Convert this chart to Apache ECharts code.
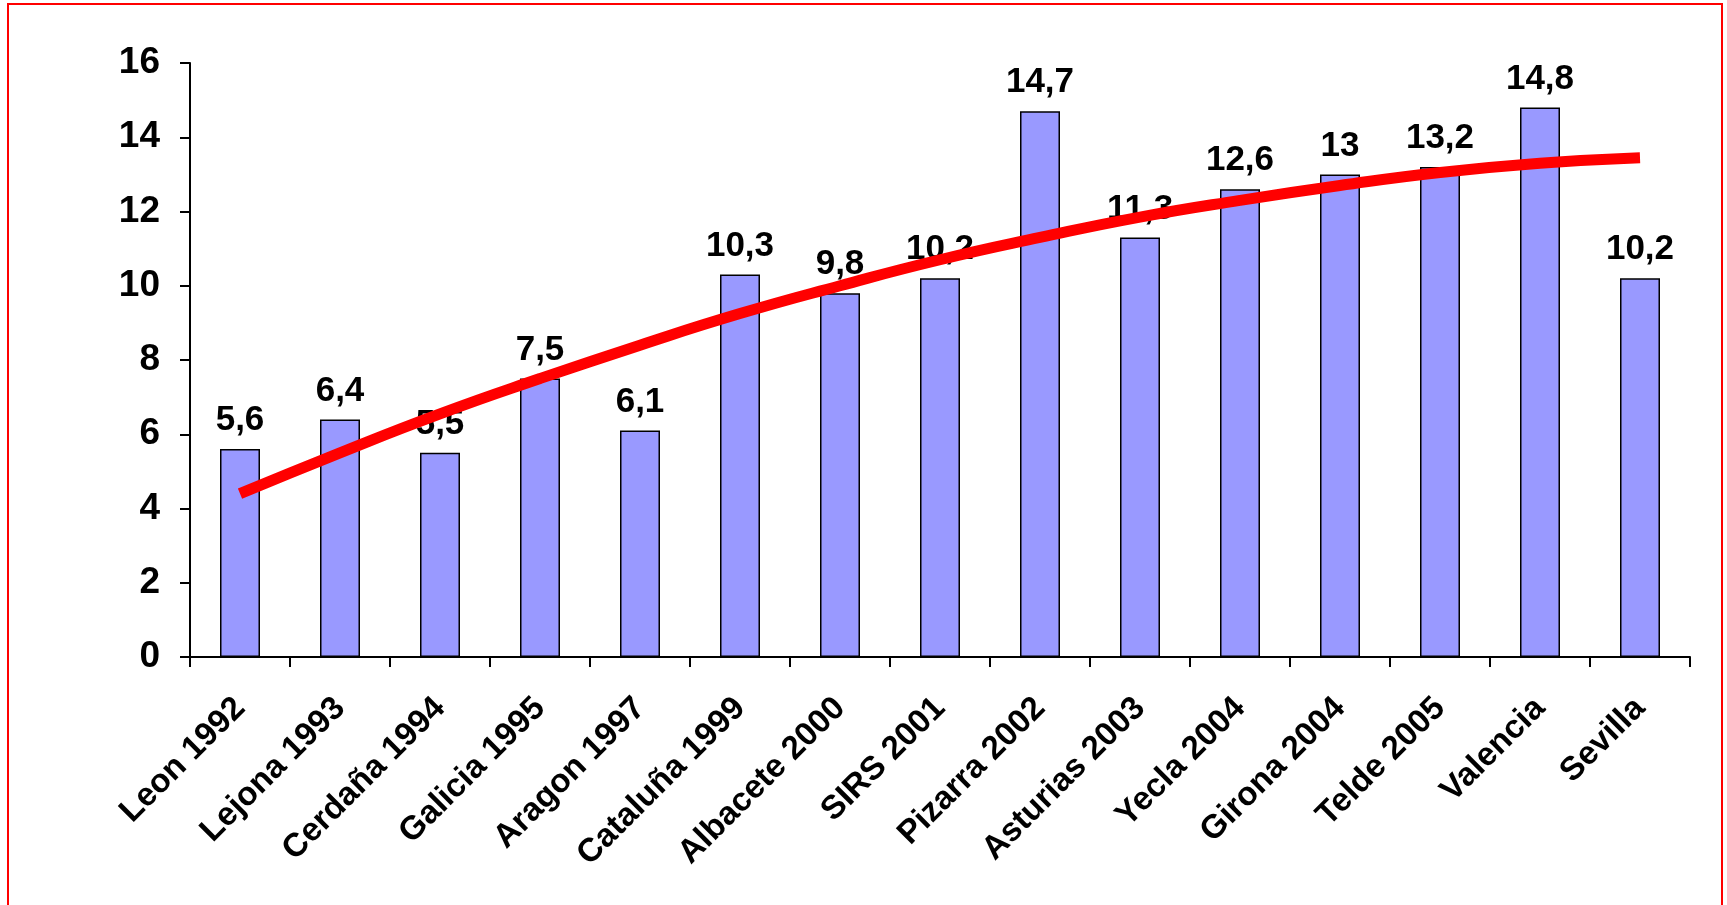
<!DOCTYPE html>
<html>
<head>
<meta charset="utf-8">
<script src="https://cdn.jsdelivr.net/npm/echarts@6/dist/echarts.min.js"></script>
<style>
  html, body { margin: 0; padding: 0; background: #ffffff; }
  #chart { width: 1727px; height: 905px; }
</style>
</head>
<body>
<div id="chart"></div>
<script>
// Studies and their measured values
const categories = [
  'Leon 1992', 'Lejona 1993', 'Cerdaña 1994', 'Galicia 1995', 'Aragon 1997',
  'Cataluña 1999', 'Albacete 2000', 'SIRS 2001', 'Pizarra 2002', 'Asturias 2003',
  'Yecla 2004', 'Girona 2004', 'Telde 2005', 'Valencia', 'Sevilla'
];
const values = [5.6, 6.4, 5.5, 7.5, 6.1, 10.3, 9.8, 10.2, 14.7, 11.3, 12.6, 13, 13.2, 14.8, 10.2];
// Trend curve, read at each study
const trend = [4.4, 5.5, 6.55, 7.5, 8.4, 9.25, 10.0, 10.7, 11.3, 11.85, 12.3, 12.7, 13.05, 13.3, 13.45];
const yTicks = { min: 0, max: 16, interval: 2 };

const FONT = "'Liberation Sans', Arial, sans-serif";
const chart = echarts.init(document.getElementById('chart'), null, { renderer: 'canvas' });

chart.setOption({
  animation: false,
  backgroundColor: '#ffffff',
  graphic: [{
    type: 'rect',
    shape: { x: 8, y: 4, width: 1714, height: 1000 },
    style: { fill: 'none', stroke: '#ff0000', lineWidth: 2 },
    silent: true
  }],
  grid: { left: 190, right: 37, top: 63, bottom: 248 },
  xAxis: {
    type: 'category',
    data: categories,
    boundaryGap: true,
    axisLine: { lineStyle: { color: '#000', width: 2 } },
    axisTick: { show: true, interval: 0, length: 10, lineStyle: { color: '#000', width: 2 } },
    axisLabel: {
      interval: 0, rotate: 45, margin: 46,
      color: '#000', fontFamily: FONT, fontWeight: 'bold', fontSize: 33
    }
  },
  yAxis: {
    type: 'value',
    min: yTicks.min, max: yTicks.max, interval: yTicks.interval,
    splitLine: { show: false },
    axisLine: { show: true, lineStyle: { color: '#000', width: 2 } },
    axisTick: { show: true, length: 10, lineStyle: { color: '#000', width: 2 } },
    axisLabel: { margin: 30, color: '#000', fontFamily: FONT, fontWeight: 'bold', fontSize: 37 }
  },
  series: [
    {
      type: 'bar',
      data: values,
      barWidth: 40,
      z: 2,
      itemStyle: { color: '#9999ff', borderColor: '#000', borderWidth: 1.5 },
      label: {
        show: true, position: 'top', distance: 11,
        color: '#000', fontFamily: FONT, fontWeight: 'bold', fontSize: 35,
        formatter: p => String(p.value).replace('.', ',')
      }
    },
    {
      type: 'line',
      data: trend,
      smooth: true,
      symbol: 'none',
      z: 5,
      lineStyle: { color: '#ff0000', width: 11, cap: 'butt' }
    }
  ]
});
</script>
</body>
</html>
